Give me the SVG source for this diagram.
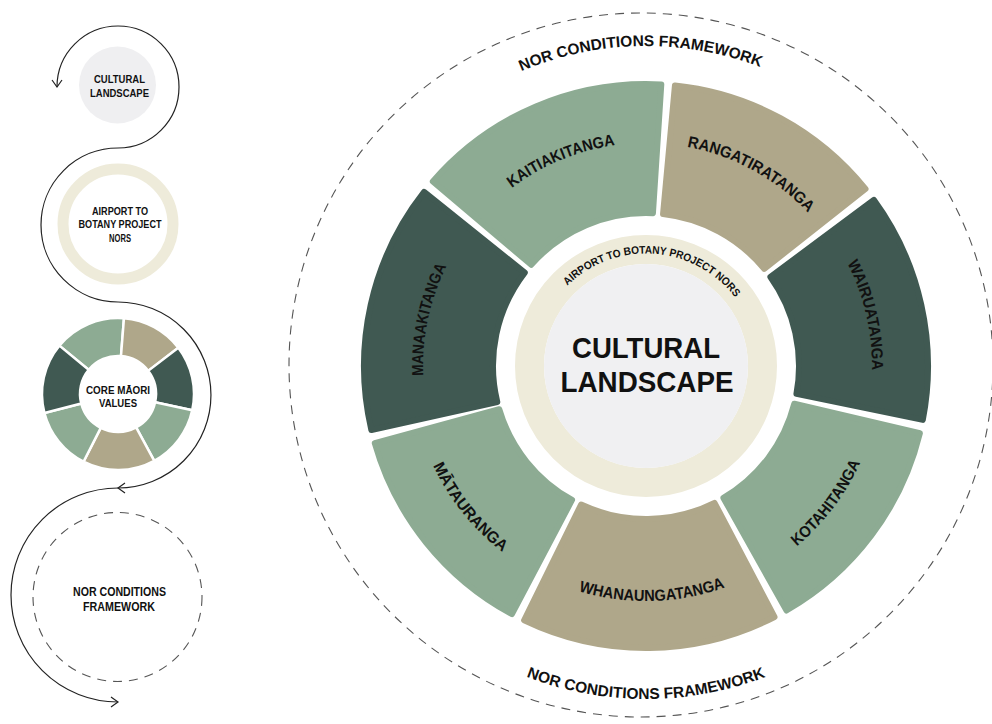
<svg xmlns="http://www.w3.org/2000/svg" width="992" height="724" viewBox="0 0 992 724">
<style>
.t{font-family:"Liberation Sans",Arial,sans-serif;font-weight:bold;fill:#111;}
.sage{fill:#8DAB93;stroke:#8DAB93;}
.tan{fill:#AFA78A;stroke:#AFA78A;}
.dark{fill:#405952;stroke:#405952;}
.seg{stroke-width:6;stroke-linejoin:round;}
.sseg{stroke:#fff;stroke-width:2.5;stroke-linejoin:miter;}
.lbl{font-size:16px;}
.conn{fill:none;stroke:#222;stroke-width:1.2;}
.dash{fill:none;stroke:#555;stroke-width:1.1;stroke-dasharray:9 7;}
</style>
<defs>
<marker id="chev" markerUnits="userSpaceOnUse" viewBox="-10 -10 20 20" refX="0" refY="0" markerWidth="20" markerHeight="20" orient="auto-start-reverse">
<path d="M-7,-5 L0,0 L-7,5" fill="none" stroke="#222" stroke-width="1.2"/>
</marker>
<path id="pKAI" d="M439.98,280.66 A223,223 0 0 1 731.34,159.98"/>
<path id="pRANG" d="M601.92,147.40 A223,223 0 0 1 853.63,284.63"/>
<path id="pWAI" d="M782.01,185.51 A226,226 0 0 1 847.37,468.60"/>
<path id="pMAN" d="M458.98,487.45 A223,223 0 0 1 524.55,178.98"/>
<path id="pKOT" d="M698.06,595.16 A235,235 0 0 0 880.72,354.52"/>
<path id="pWHA" d="M499.71,549.91 A235,235 0 0 0 801.72,542.00"/>
<path id="pMAT" d="M411.06,360.67 A235,235 0 0 0 599.95,596.44"/>
<path id="pAIR" d="M543.23,320.24 A112.5,112.5 0 0 1 754.14,334.99"/>
<path id="pNORtop" d="M436.06,124.49 A320,320 0 0 1 847.38,117.31"/>
<path id="pNORbot" d="M431.95,621.09 A333,333 0 0 0 860.05,621.09"/>
</defs>
<rect width="992" height="724" fill="#fff"/>

<g id="connectors">
<path class="conn" d="M57,87 A61,61 0 1 1 118,148 A77,77 0 0 0 118,302 A93,93 0 0 1 118,488" marker-start="url(#chev)" marker-end="url(#chev)"/>
<path class="conn" d="M118,488 A107,107 0 0 0 118,702" marker-end="url(#chev)"/>
</g>

<g id="mini-cultural-landscape">
<circle cx="117.5" cy="85" r="38.5" fill="#EFEFF1"/>
<text class="t" x="119.5" y="83" font-size="10" text-anchor="middle" textLength="51" lengthAdjust="spacingAndGlyphs">CULTURAL</text>
<text class="t" x="119.5" y="97" font-size="10" text-anchor="middle" textLength="59" lengthAdjust="spacingAndGlyphs">LANDSCAPE</text>
</g>

<g id="mini-airport-nors">
<circle cx="118" cy="224" r="55" fill="#fff" stroke="#EEEBDA" stroke-width="11"/>
<text class="t" x="120" y="215" font-size="10" text-anchor="middle" textLength="56" lengthAdjust="spacingAndGlyphs">AIRPORT TO</text>
<text class="t" x="120" y="228" font-size="10" text-anchor="middle" textLength="83" lengthAdjust="spacingAndGlyphs">BOTANY PROJECT</text>
<text class="t" x="120" y="242" font-size="10" text-anchor="middle" textLength="22" lengthAdjust="spacingAndGlyphs">NORS</text>
</g>

<g id="mini-core-values">
<path class="sage sseg" d="M59.36,345.66 A76,76 0 0 1 123.96,318.23 L120.98,356.12 A38,38 0 0 0 88.68,369.83 Z"/>
<path class="tan sseg" d="M123.96,318.23 A76,76 0 0 1 178.29,347.73 L148.15,370.87 A38,38 0 0 0 120.98,356.12 Z"/>
<path class="dark sseg" d="M178.29,347.73 A76,76 0 0 1 192.23,410.32 L155.11,402.16 A38,38 0 0 0 148.15,370.87 Z"/>
<path class="sage sseg" d="M192.23,410.32 A76,76 0 0 1 154.26,460.79 L136.13,427.40 A38,38 0 0 0 155.11,402.16 Z"/>
<path class="tan sseg" d="M154.26,460.79 A76,76 0 0 1 83.50,461.72 L100.75,427.86 A38,38 0 0 0 136.13,427.40 Z"/>
<path class="sage sseg" d="M83.50,461.72 A76,76 0 0 1 44.42,413.03 L81.21,403.51 A38,38 0 0 0 100.75,427.86 Z"/>
<path class="dark sseg" d="M44.42,413.03 A76,76 0 0 1 59.36,345.66 L88.68,369.83 A38,38 0 0 0 81.21,403.51 Z"/>
<text class="t" x="118" y="394" font-size="11" text-anchor="middle" textLength="64" lengthAdjust="spacingAndGlyphs">CORE MĀORI</text>
<text class="t" x="118" y="407" font-size="11" text-anchor="middle" textLength="38" lengthAdjust="spacingAndGlyphs">VALUES</text>
</g>

<g id="mini-nor-framework">
<circle class="dash" cx="117.5" cy="597" r="84.5" stroke="#666" stroke-width="1.2"/>
<text class="t" x="119.5" y="596" font-size="12" text-anchor="middle" textLength="93" lengthAdjust="spacingAndGlyphs">NOR CONDITIONS</text>
<text class="t" x="119" y="611" font-size="12" text-anchor="middle" textLength="72" lengthAdjust="spacingAndGlyphs">FRAMEWORK</text>
</g>

<g id="nor-conditions-framework">
<circle class="dash" cx="641" cy="365" r="352"/>
<text class="t" font-size="15.5"><textPath href="#pNORtop" startOffset="50%" text-anchor="middle">NOR CONDITIONS FRAMEWORK</textPath></text>
<text class="t" font-size="15.5"><textPath href="#pNORbot" startOffset="50%" text-anchor="middle">NOR CONDITIONS FRAMEWORK</textPath></text>
</g>

<g id="seg-kaitiakitanga">
<path class="sage seg" d="M432.82,181.40 A282,282 0 0 1 661.30,84.41 L652.94,213.16 A153,153 0 0 0 531.23,264.82 Z"/>
<text class="t lbl"><textPath href="#pKAI" startOffset="50%" text-anchor="middle" textLength="113" lengthAdjust="spacingAndGlyphs">KAITIAKITANGA</textPath></text>
</g>
<g id="seg-rangatiratanga">
<path class="tan seg" d="M674.94,85.49 A282,282 0 0 1 865.50,188.95 L764.23,268.89 A153,153 0 0 0 663.05,213.95 Z"/>
<text class="t lbl"><textPath href="#pRANG" startOffset="50%" text-anchor="middle" textLength="140" lengthAdjust="spacingAndGlyphs">RANGATIRATANGA</textPath></text>
</g>
<g id="seg-wairuatanga">
<path class="dark seg" d="M873.82,199.81 A282,282 0 0 1 922.81,419.86 L796.44,393.88 A153,153 0 0 0 770.40,276.94 Z"/>
<text class="t lbl"><textPath href="#pWAI" startOffset="50%" text-anchor="middle" textLength="111" lengthAdjust="spacingAndGlyphs">WAIRUATANGA</textPath></text>
</g>
<g id="seg-kotahitanga">
<path class="sage seg" d="M919.87,433.22 A282,282 0 0 1 786.53,610.49 L723.42,497.96 A153,153 0 0 0 794.26,403.79 Z"/>
<text class="t lbl"><textPath href="#pKOT" startOffset="50%" text-anchor="middle" textLength="106" lengthAdjust="spacingAndGlyphs">KOTAHITANGA</textPath></text>
</g>
<g id="seg-whanaungatanga">
<path class="tan seg" d="M774.51,617.02 A282,282 0 0 1 524.11,620.30 L581.10,504.55 A153,153 0 0 0 714.51,502.81 Z"/>
<text class="t lbl"><textPath href="#pWHA" startOffset="50%" text-anchor="middle" textLength="149" lengthAdjust="spacingAndGlyphs">WHANAUNGATANGA</textPath></text>
</g>
<g id="seg-matauranga">
<path class="sage seg" d="M511.92,614.08 A282,282 0 0 1 374.78,443.21 L499.22,409.20 A153,153 0 0 0 572.06,499.95 Z"/>
<text class="t lbl"><textPath href="#pMAT" startOffset="50%" text-anchor="middle" textLength="112" lengthAdjust="spacingAndGlyphs">MĀTAURANGA</textPath></text>
</g>
<g id="seg-manaakitanga">
<path class="dark seg" d="M371.35,429.96 A282,282 0 0 1 424.11,191.96 L524.78,272.65 A153,153 0 0 0 497.29,401.98 Z"/>
<text class="t lbl"><textPath href="#pMAN" startOffset="50%" text-anchor="middle" textLength="113" lengthAdjust="spacingAndGlyphs">MANAAKITANGA</textPath></text>
</g>

<g id="airport-nors-ring">
<circle cx="646" cy="366" r="116.5" fill="none" stroke="#EEEBDA" stroke-width="29"/>
<text class="t" font-size="11"><textPath href="#pAIR" startOffset="50%" text-anchor="middle" textLength="190" lengthAdjust="spacingAndGlyphs">AIRPORT TO BOTANY PROJECT NORS</textPath></text>
</g>

<g id="cultural-landscape">
<circle cx="646" cy="366" r="102" fill="#F0F0F2"/>
<text class="t" font-size="30" text-anchor="middle"><tspan x="646" y="358" textLength="148" lengthAdjust="spacingAndGlyphs">CULTURAL</tspan><tspan x="647" y="392" textLength="173" lengthAdjust="spacingAndGlyphs">LANDSCAPE</tspan></text>
</g>
</svg>
